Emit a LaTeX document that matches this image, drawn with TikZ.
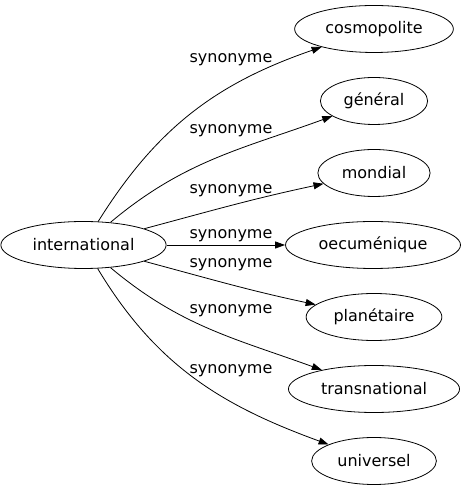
\documentclass[tikz,border=0pt]{standalone}
\usepackage{fontspec}
\setmainfont{DejaVu Sans}
\usetikzlibrary{arrows.meta,shapes.geometric}

\begin{document}
\begin{tikzpicture}[x=1bp,y=1bp,
  word/.style={ellipse,draw,line width=0.8bp,inner xsep=7.5bp,inner ysep=2bp,minimum height=47bp,font=\fontsize{16bp}{18bp}\selectfont},
  syn/.style={-{Triangle[length=10bp,width=7bp]},line width=0.8bp},
  synlabel/.style={font=\fontsize{16bp}{18bp}\selectfont,inner sep=0pt}]
\useasboundingbox (0,0) rectangle (463,491);

%% words
\node [word] (intl) at (83.5,246) {international};
\node [word] (cosmo) at (374,462) {cosmopolite};
\node [word] (general) at (374,390) {général};
\node [word] (mondial) at (374,318) {mondial};
\node [word] (oecu) at (373,246) {oecuménique};
\node [word] (plan) at (374,174) {planétaire};
\node [word] (trans) at (374,102) {transnational};
\node [word] (univ) at (374,30) {universel};

%% links
\draw [syn] (intl) to[out=58,in=199] (cosmo);
\draw [syn] (intl) to[out=40,in=200] (general);
\draw [syn] (intl) to[out=15,in=192] (mondial);
\draw [syn] (intl) -- (oecu);
\draw [syn] (intl) to[out=-15,in=168] (plan);
\draw [syn] (intl) to[out=-40,in=160] (trans);
\draw [syn] (intl) to[out=-59,in=160] (univ);

%% labels
\node [synlabel] (l1) at (231,431) {synonyme};
\node [synlabel] (l2) at (231,360) {synonyme};
\node [synlabel] (l3) at (231,300) {synonyme};
\node [synlabel] (l4) at (231,255) {synonyme};
\node [synlabel] (l5) at (231,226) {synonyme};
\node [synlabel] (l6) at (231,180) {synonyme};
\node [synlabel] (l7) at (231,120) {synonyme};

\end{tikzpicture}
\end{document}
